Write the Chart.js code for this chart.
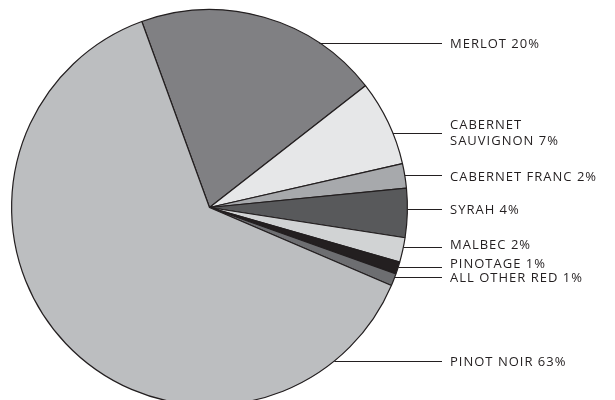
<!DOCTYPE html>
<html>
<head>
<meta charset="utf-8">
<script src="https://cdn.jsdelivr.net/npm/chart.js@4/dist/chart.umd.min.js"></script>
<style>
    html, body { margin: 0; padding: 0; background: #fff; overflow: hidden; }
    #wrap { width: 615px; height: 420px; }
</style>
</head>
<body>
<div id="wrap"><canvas id="myChart" width="615" height="420"></canvas></div>
<script>
const wines = [
    'MERLOT',
    ['CABERNET', 'SAUVIGNON'],
    'CABERNET FRANC',
    'SYRAH',
    'MALBEC',
    'PINOTAGE',
    'ALL OTHER RED',
    'PINOT NOIR'
];
const shares = [20, 7, 2, 4, 2, 1, 1, 63];
const sliceColors = ['#808083', '#e6e7e8', '#a7a9ac', '#58595b', '#d1d3d4', '#231f20', '#6d6e71', '#bcbec0'];

// where each leader line and its label sit (line y, text y)
const leaderLineY = [43, 133, 175, 209, 247, 266.5, 276.5, 361];
const leaderTextY = [43, 132, 176, 209, 244.5, 263.5, 277.5, 361];

const leaderLines = {
    id: 'leaderLines',
    afterDatasetsDraw(chart) {
        const ctx = chart.ctx;
        const arc = chart.getDatasetMeta(0).data[0];
        const cx = arc.x, cy = arc.y, r = arc.outerRadius;
        const endX = 442, textX = 450;
        ctx.save();
        ctx.strokeStyle = '#231f20';
        ctx.lineWidth = 1;
        ctx.fillStyle = '#231f20';
        ctx.font = '13px "Open Sans"';
        ctx.letterSpacing = '1px';
        ctx.textBaseline = 'middle';
        for (let i = 0; i < shares.length; i++) {
            let ly = leaderLineY[i];
            let dy = ly - cy;
            let sx = cx + Math.sqrt(Math.max(r * r - dy * dy, 0));
            ctx.beginPath();
            ctx.moveTo(sx, Math.round(ly) + 0.5);
            ctx.lineTo(endX, Math.round(ly) + 0.5);
            ctx.stroke();

            let lines = Array.isArray(wines[i]) ? wines[i].slice() : [wines[i]];
            lines[lines.length - 1] = lines[lines.length - 1] + ' ' + shares[i] + '%';
            let lh = 16;
            let ty = leaderTextY[i] - (lines.length - 1) * lh / 2;
            lines.forEach((t, k) => {
                ctx.fillText(t, textX, ty + k * lh + 1);
            });
        }
        ctx.restore();
    }
};

const data = {
    labels: wines,
    datasets: [{
        data: shares,
        backgroundColor: sliceColors,
        borderColor: '#231f20',
        borderWidth: 1.2
    }]
};

const config = {
    type: 'pie',
    data: data,
    options: {
        responsive: false,
        animation: false,
        rotation: -20,
        layout: { padding: { left: 11, top: 9, right: 207, bottom: 14 } },
        plugins: {
            legend: { display: false },
            tooltip: { enabled: false }
        }
    },
    plugins: [leaderLines]
};

let myChart = new Chart(document.getElementById('myChart'), config);
</script>
</body>
</html>
